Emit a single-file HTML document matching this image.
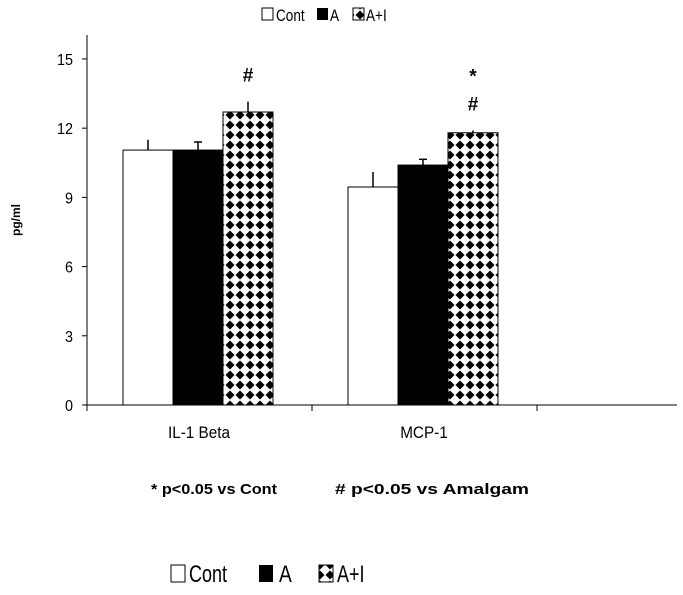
<!DOCTYPE html>
<html><head><meta charset="utf-8"><style>
body{margin:0;background:#fff;}
svg{display:block;font-family:"Liberation Sans",sans-serif;}
</style></head><body>
<svg id="chart" width="683" height="595" viewBox="0 0 683 595">
<defs>
<pattern id="dia" width="10" height="10" patternUnits="userSpaceOnUse" x="225" y="0">
<rect width="10" height="10" fill="#fff"/>
<polygon points="5,0.5 9.5,5 5,9.5 0.5,5" fill="#000"/>
</pattern>
</defs>
<g font-size="17">
<rect x="262" y="8" width="11" height="12" fill="#fff" stroke="#000"/>
<text x="276" y="21" transform="translate(276,0) scale(0.8,1) translate(-276,0)">Cont</text>
<rect x="317" y="8" width="11" height="12" fill="#000"/>
<text x="330" y="21" transform="translate(330,0) scale(0.8,1) translate(-330,0)">A</text>
<rect x="353" y="8" width="11" height="12" fill="url(#dia)" stroke="#000"/>
<text x="366" y="21" transform="translate(366,0) scale(0.8,1) translate(-366,0)">A+I</text>
</g>
<text x="20" y="220" font-size="12" font-weight="bold" text-anchor="middle" transform="rotate(-90 20 220)">pg/ml</text>
<g id="axes" stroke="#000" stroke-width="1"></g>
<g id="bars"></g>
<g id="labels" font-size="15"></g>
<g font-size="15" font-weight="bold">
<text x="151" y="494" textLength="126" lengthAdjust="spacingAndGlyphs">* p&lt;0.05 vs Cont</text>
<text x="335" y="494" textLength="194" lengthAdjust="spacingAndGlyphs"># p&lt;0.05 vs Amalgam</text>
</g>
<g font-size="24">
<rect x="171" y="565" width="14" height="17" fill="#fff" stroke="#000"/>
<text x="189" y="582" transform="translate(189,0) scale(0.75,1) translate(-189,0)">Cont</text>
<rect x="259" y="565" width="14" height="17" fill="#000"/>
<text x="279" y="582" transform="translate(279,0) scale(0.8,1) translate(-279,0)">A</text>
<rect x="319" y="565" width="14" height="17" fill="url(#dia)" stroke="#000"/>
<text x="337" y="582" transform="translate(337,0) scale(0.75,1) translate(-337,0)">A+I</text>
</g>
</svg>
<script>
const categories = ["IL-1 Beta", "MCP-1"];
const seriesNames = ["Cont", "A", "A+I"];
const contValues = [11.05, 9.45];
const aValues = [11.05, 10.4];
const aiValues = [12.7, 11.8];
const contErr = [0.45, 0.65];
const aErr = [0.35, 0.25];
const aiErr = [0.45, 0.1];
const yTicks = [0, 3, 6, 9, 12, 15];
const annotations = [["#"], ["*", "#"]];

const NS = "http://www.w3.org/2000/svg";
const x0 = 87, x1 = 677, yBase = 405, yTopPx = 35, pxPerUnit = 23.07;
const catWidth = 225, barW = 50, barOffset = 36;
function yScale(v){ return yBase - v * pxPerUnit; }
function xCat(i){ return x0 + i * catWidth; }
function mk(tag, attrs, parent){ const e = document.createElementNS(NS, tag); for (const k in attrs) e.setAttribute(k, attrs[k]); parent.appendChild(e); return e; }

const axes = document.getElementById('axes');
const ya = mk('line', {x1:x0, y1:yTopPx, x2:x0, y2:yBase}, axes);


const xa = mk('line', {x1:x0, y1:yBase, x2:x1, y2:yBase}, axes);


const labels = document.getElementById('labels');
yTicks.forEach(t => {
  const y = yScale(t);
  mk('line', {x1:x0-5, y1:y, x2:x0, y2:y}, axes);
  const tx = mk('text', {x:x0-14, y:y+6, 'text-anchor':'end', 'font-size':16, transform:'translate('+(x0-14)+',0) scale(0.9,1) translate('+(-(x0-14))+',0)'}, labels);
  tx.textContent = t;
  
  
});
for (let i = 0; i <= categories.length; i++) {
  mk('line', {x1:xCat(i), y1:yBase, x2:xCat(i), y2:yBase+6}, axes);
}
const bars = document.getElementById('bars');
const series = [contValues, aValues, aiValues];
const errs = [contErr, aErr, aiErr];
const fills = ['#fff', '#000', 'url(#dia)'];
categories.forEach((c, i) => {
  const lx = xCat(i) + 112;
  const lab = mk('text', {x:lx, y:yBase+33, 'text-anchor':'middle', 'font-size':17, transform:'translate('+lx+',0) scale(0.9,1) translate('+(-lx)+',0)'}, labels);
  lab.textContent = c;
  
  
  let topY = yBase;
  series.forEach((s, j) => {
    const bx = xCat(i) + barOffset + j * barW;
    const y = yScale(s[i]);
    const r = mk('rect', {x:bx, y:y, width:barW, height:yBase - y, fill:fills[j], stroke:'#000', 'stroke-width':1}, bars);
    
    
    const ey = yScale(s[i] + errs[j][i]);
    const cx = bx + barW/2;
    const el = mk('line', {x1:cx, y1:y, x2:cx, y2:ey, stroke:'#000', 'stroke-width':1.5}, bars);
    
    
    if (j === 1) mk('line', {x1:cx-4, y1:ey, x2:cx+4, y2:ey, stroke:'#000', 'stroke-width':1.5}, bars);
    topY = Math.min(topY, ey);
  });
  const ax = xCat(i) + barOffset + 2.5 * barW;
  annotations[i].slice().reverse().forEach((a, k) => {
    const t = mk('text', {x:ax, y:topY - 20 - k*36 + (a === '*' ? 8 : 0), 'text-anchor':'middle', 'font-size':19, 'font-weight':'bold'}, labels);
    t.textContent = a;
    
    
  });
});
</script>
</body></html>
